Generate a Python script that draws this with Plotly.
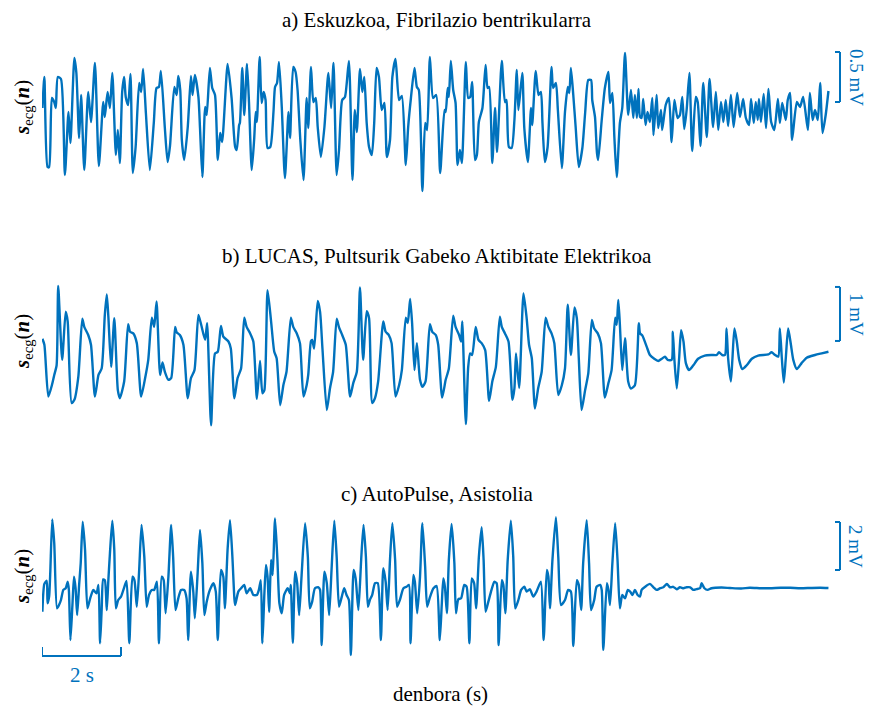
import plotly.graph_objects as go

# ---------------- data (time in s, amplitude in mV) ----------------
t_a = [0.01,0.06,0.14,0.18,0.25,0.31,0.35,0.40,0.48,0.58,
0.67,0.72,0.82,0.87,0.94,0.99,1.07,1.17,1.24,1.34,
1.44,1.55,1.59,1.66,1.72,1.78,1.87,1.92,1.97,2.03,
2.08,2.12,2.18,2.24,2.30,2.37,2.46,2.51,2.56,2.63,
2.73,2.83,2.90,2.96,3.01,3.11,3.18,3.24,3.35,3.41,
3.45,3.50,3.54,3.60,3.69,3.77,3.81,3.87,3.96,4.00,
4.06,4.13,4.17,4.25,4.31,4.38,4.45,4.51,4.56,4.70,
4.80,4.89,4.93,4.99,
5.01,5.07,5.12,5.19,5.24,5.31,5.37,5.41,5.44,5.51,
5.56,5.61,5.66,5.71,5.78,5.86,5.90,5.95,6.00,6.07,
6.15,6.24,6.28,6.36,6.42,6.47,6.54,6.62,6.70,6.74,
6.81,6.87,6.93,6.98,7.06,7.15,7.25,7.32,7.38,7.46,
7.52,7.60,7.67,7.77,7.86,7.92,7.97,8.05,8.11,8.16,
8.22,8.28,8.35,8.41,8.47,8.53,8.60,8.67,8.73,8.81,
8.87,8.95,9.04,9.11,9.21,9.27,9.34,9.43,9.49,9.54,
9.63,9.70,9.75,9.82,9.90,9.98,
10.08,10.19,10.22,10.27,10.30,10.35,10.41,10.47,10.52,10.58,
10.63,10.73,10.79,10.84,10.89,10.96,11.01,11.06,11.15,11.23,
11.28,11.32,11.40,11.47,11.52,11.64,11.72,11.76,11.82,11.89,
11.96,12.02,12.06,12.16,12.21,12.30,12.38,12.41,12.50,12.57,
12.63,12.67,12.73,12.80,12.90,12.94,13.01,13.06,13.16,13.24,
13.31,13.35,13.39,13.45,13.51,13.59,13.68,13.75,13.83,13.90,
13.93,14.00,14.05,14.08,14.17,14.25,14.34,14.38,14.44,14.49,
14.55,14.63,14.69,14.76,14.84,14.91,14.97,15.01,15.06,15.10,
15.14,15.18,15.22,15.28,15.33,15.39,15.45,15.48,15.56,15.60,
15.67,15.70,15.79,15.87,15.94,16.01,16.09,16.15,16.21,16.26,
16.32,16.39,16.46,16.55,16.60,16.67,16.74,16.83,16.90,16.99,
17.06,17.12,17.19,17.25,17.31,17.37,17.44,17.51,17.60,17.67,
17.75,17.82,17.90,17.95,18.02,18.07,18.12,18.15,18.20,18.27,
18.33,18.39,18.46,18.54,18.63,18.68,18.74,18.83,18.88,18.94,
18.99,19.11,19.19,19.27,19.39,19.44,19.51,19.57,19.64,19.70,
19.76,19.84,19.91]

v_a = [0.12,0.43,-0.47,-0.47,0.22,0.18,0.12,0.43,0.41,-0.55,
0.08,-0.23,0.62,0.47,-0.18,0.25,-0.50,0.28,-0.02,0.57,
-0.46,0.18,0.03,0.28,0.12,0.47,-0.35,-0.10,-0.43,0.28,
0.43,0.23,0.15,0.46,-0.53,-0.27,0.37,0.28,0.51,0.07,
-0.50,-0.03,0.32,0.33,0.49,-0.08,-0.42,-0.26,0.33,0.25,
0.44,0.30,-0.20,-0.40,-0.07,0.44,0.25,0.45,0.23,-0.08,
-0.57,0.13,0.05,0.52,0.32,0.25,-0.40,-0.13,-0.22,0.56,
0.22,-0.27,-0.30,-0.05,
-0.03,0.52,0.05,0.56,0.18,-0.50,-0.20,0.08,-0.02,0.63,
0.17,0.28,0.20,-0.28,-0.27,0.08,0.33,0.37,0.58,0.13,
-0.58,0.08,-0.18,0.53,0.48,0.30,-0.20,-0.60,0.22,-0.08,
0.53,0.18,0.22,-0.07,-0.37,-0.07,0.47,0.12,0.57,-0.55,
-0.30,0.20,0.23,0.59,-0.60,0.10,-0.12,0.51,0.28,0.43,
-0.03,-0.27,-0.35,-0.03,0.52,0.43,0.10,0.17,-0.37,-0.20,
0.43,0.61,0.20,0.24,-0.45,-0.07,0.22,0.52,0.33,0.30,
-0.71,-0.03,-0.10,0.63,0.22,0.25,
-0.53,0.10,0.08,0.32,0.23,0.59,0.30,0.17,-0.45,-0.30,
-0.43,0.58,0.22,0.23,0.38,-0.40,-0.35,-0.02,0.12,0.55,
0.32,0.33,-0.43,0.12,-0.32,0.59,0.18,0.20,-0.27,-0.28,
0.00,0.50,0.10,0.47,-0.08,-0.42,0.12,-0.05,0.49,0.25,
0.28,-0.03,-0.42,-0.27,0.53,0.32,0.37,0.10,-0.48,0.08,
0.33,0.27,0.52,0.25,-0.07,-0.47,-0.28,0.07,0.40,0.40,
0.20,0.03,-0.33,-0.40,0.00,0.32,0.48,0.17,0.27,-0.17,
-0.57,-0.03,0.12,0.67,0.05,0.30,0.02,0.25,0.02,0.31,
0.03,0.02,0.21,-0.05,0.08,-0.02,0.22,-0.15,0.25,-0.08,
0.10,-0.10,0.15,0.22,-0.22,0.20,0.02,0.05,0.23,-0.09,
0.10,0.47,-0.31,0.23,0.18,-0.26,0.37,-0.17,0.41,-0.07,
0.28,-0.10,0.18,-0.02,0.20,-0.06,0.25,-0.07,0.27,0.03,
0.21,0.02,-0.05,0.21,-0.03,0.18,0.00,0.21,-0.02,0.26,
-0.08,0.31,-0.02,-0.10,0.21,-0.03,0.17,0.00,0.20,0.27,
-0.20,0.18,0.13,0.23,-0.10,0.27,0.00,0.10,0.00,0.37,
-0.13,0.05,0.29]

t_b = [0.01,0.06,0.16,0.25,0.31,0.37,0.41,0.51,0.60,0.65,
0.75,0.82,0.92,1.02,1.07,1.17,1.24,1.34,1.43,1.51,
1.59,1.64,1.68,1.75,1.83,1.92,1.97,2.08,2.18,2.23,
2.31,2.40,2.51,2.61,2.69,2.78,2.84,2.90,2.99,3.05,
3.11,3.20,3.27,3.37,3.41,3.49,3.58,3.69,3.77,3.86,
3.96,4.03,4.13,4.18,4.28,4.38,4.45,4.53,4.59,4.72,
4.78,4.87,4.95,5.04,5.12,5.18,5.27,5.35,5.44,5.52,
5.58,5.63,5.71,5.80,5.88,5.94,6.03,6.11,6.19,6.30,
6.36,6.45,6.53,6.62,6.70,6.74,6.81,6.84,6.89,6.98,
7.04,7.10,7.21,7.29,7.37,7.46,7.52,7.60,7.69,7.80,
7.88,7.97,8.05,8.13,8.22,8.28,8.36,8.43,8.51,8.64,
8.70,8.78,8.85,8.95,9.04,9.11,9.21,9.26,9.32,9.37,
9.43,9.49,9.57,9.63,9.71,9.82,9.88,9.97,10.03,10.13,
10.22,10.30,10.41,10.47,10.56,10.61,10.64,10.73,10.79,10.84,
10.89,10.98,11.05,11.13,11.22,11.32,11.40,11.49,11.59,11.64,
11.72,11.81,11.91,11.96,12.00,12.08,12.19,12.27,12.33,12.40,
12.48,12.56,12.65,12.75,12.82,12.90,12.97,13.07,13.16,13.24,
13.31,13.39,13.48,13.54,13.59,13.66,13.75,13.83,13.92,13.98,
14.07,14.15,14.25,14.34,14.42,14.51,14.55,14.59,14.63,14.69,
14.76,14.84,14.91,15.01,15.11,15.14,15.20,15.31,15.39,15.50,
15.60,15.69,15.77,15.84,15.94,15.97,16.01,16.07,16.13,16.18,
16.24,16.30,16.38,16.49,16.61,16.78,16.95,17.08,17.14,17.22,
17.29,17.33,17.37,17.44,17.48,17.53,17.59,17.65,17.73,17.84,
17.97,18.13,18.39,18.47,18.56,18.64,18.68,18.73,18.78,18.83,
18.89,18.96,19.02,19.11,19.23,19.36,19.57,19.74,19.91]

v_b = [0.30,0.19,-0.77,-0.56,-0.37,-0.19,1.28,-0.09,0.80,0.62,
-0.89,-0.83,-0.40,0.67,0.52,0.37,0.19,-0.77,-0.37,-0.25,
0.74,1.12,0.71,-0.22,0.68,-0.65,-0.80,-0.49,0.57,0.43,
0.40,0.22,-0.77,-0.43,-0.09,0.69,0.52,0.99,-0.37,-0.14,
-0.31,-0.46,-0.43,0.52,0.42,0.37,0.19,-0.80,-0.43,-0.28,
0.74,0.56,0.28,0.59,-1.30,0.03,0.06,0.54,0.34,0.25,
0.12,-0.80,-0.43,-0.25,0.69,0.52,0.40,0.25,-0.81,-0.11,
-0.71,-0.65,1.20,0.62,0.06,-0.06,-0.93,-0.56,-0.31,0.69,
0.52,0.40,0.22,-0.77,-0.56,-0.37,0.26,0.28,0.12,1.00,
0.80,0.12,-1.02,-0.62,-0.31,0.67,0.51,0.37,0.19,-0.77,
-0.52,-0.31,1.25,-0.09,0.81,0.68,-0.89,-0.80,-0.49,0.62,
0.43,0.37,0.22,-0.77,-0.56,-0.28,0.69,0.59,1.04,0.59,
-0.28,0.22,-0.46,-0.59,-0.49,0.57,0.43,0.37,0.19,-0.79,
-0.46,-0.25,0.73,0.52,0.37,0.25,0.62,-1.28,-0.22,0.03,
0.00,0.52,0.28,0.22,0.09,-0.85,-0.49,-0.22,0.71,0.52,
0.40,0.25,-0.83,-0.62,0.03,-0.61,1.14,0.68,0.19,-0.06,
-0.99,-0.62,-0.31,0.69,0.52,0.40,0.22,-0.74,-0.56,-0.25,
0.93,0.00,0.88,0.68,-0.06,-1.02,-0.65,-0.34,0.65,0.49,
0.40,0.22,-0.79,-0.52,-0.28,0.69,0.56,1.02,0.56,-0.28,
0.31,-0.49,-0.62,-0.56,0.59,0.40,0.36,0.15,0.00,-0.07,
-0.11,-0.07,-0.03,-0.09,-0.09,0.43,-0.09,-0.62,-0.06,0.46,
0.25,-0.15,-0.28,-0.19,-0.07,-0.01,0.00,0.00,0.05,0.00,
0.00,0.49,-0.06,-0.49,-0.06,0.49,0.25,-0.09,-0.26,-0.19,
-0.07,-0.01,0.01,0.05,0.00,-0.03,0.49,-0.06,-0.51,-0.06,
0.49,0.19,-0.09,-0.26,-0.15,-0.05,0.00,0.03,0.06]

t_c = [0.01,0.06,0.12,0.14,0.18,0.21,0.26,0.31,0.38,0.43,
0.48,0.54,0.60,0.65,0.68,0.72,0.77,0.81,0.85,0.89,
0.94,0.98,1.03,1.09,1.15,1.22,1.30,1.38,1.43,1.47,
1.51,1.55,1.59,1.64,1.68,1.72,1.78,1.83,1.87,1.93,
2.00,2.06,2.14,2.21,2.29,2.34,2.40,2.46,2.52,2.59,
2.65,2.71,2.78,2.84,2.91,2.96,3.03,3.08,3.13,3.20,
3.27,3.32,3.38,3.45,3.52,3.60,3.66,3.70,3.77,3.83,
3.87,3.94,4.00,4.06,4.11,4.17,4.25,4.34,4.40,4.45,
4.53,4.59,4.63,4.70,4.76,4.82,4.87,4.89,4.97,5.04,
5.12,5.18,5.27,5.35,5.44,5.49,5.54,5.58,5.63,5.67,
5.71,5.75,5.80,5.84,5.90,5.96,6.01,6.07,6.13,6.22,
6.28,6.30,6.35,6.41,6.46,6.51,6.57,6.66,6.73,6.78,
6.84,6.91,7.00,7.04,7.08,7.15,7.21,7.27,7.33,7.40,
7.46,7.52,7.59,7.65,7.71,7.77,7.82,7.89,7.94,8.01,
8.08,8.14,8.20,8.25,8.30,8.36,8.43,8.50,8.58,8.64,
8.70,8.75,8.81,8.87,8.94,8.99,9.06,9.15,9.23,9.29,
9.33,9.40,9.44,9.50,9.57,9.63,9.70,9.75,9.82,9.91,
9.99,10.07,10.12,10.16,10.20,10.25,10.30,10.37,10.44,10.48,
10.54,10.61,10.69,10.75,10.82,10.88,10.94,10.99,11.06,11.13,
11.18,11.23,11.30,11.38,11.45,11.51,11.56,11.64,11.68,11.73,
11.79,11.87,11.93,11.98,12.06,12.13,12.21,12.27,12.35,12.44,
12.52,12.63,12.70,12.78,12.82,12.86,12.92,13.01,13.07,13.14,
13.24,13.32,13.39,13.45,13.54,13.59,13.65,13.70,13.79,13.85,
13.90,13.98,14.04,14.13,14.17,14.21,14.30,14.34,14.38,14.44,
14.51,14.57,14.63,14.69,14.76,14.83,14.89,14.95,15.01,15.08,
15.14,15.18,15.27,15.39,15.48,15.56,15.65,15.73,15.82,15.90,
15.98,16.07,16.15,16.24,16.32,16.41,16.49,16.57,16.66,16.70,
16.77,16.85,16.95,17.20,17.42,17.70,17.92,18.20,18.43,18.70,
18.94,19.20,19.44,19.70,19.91]

v_c = [-0.99,0.17,0.30,-0.64,-0.36,0.68,2.86,1.86,-0.85,-0.71,
-0.50,-0.08,-0.01,0.26,-0.08,-2.17,-0.71,0.47,-0.01,-1.13,
0.13,1.03,2.76,1.58,-0.85,-0.43,-0.08,-0.22,0.13,-2.30,
-0.92,0.36,0.33,-0.92,0.33,1.45,2.80,1.58,-0.85,-0.50,
-0.36,-0.08,0.29,-2.30,0.47,0.33,-0.78,0.75,2.63,1.30,
-0.78,-0.29,-0.08,-0.08,0.26,-2.30,0.47,0.33,-1.05,0.47,
2.63,1.30,-0.92,-0.43,-0.08,-0.08,-0.43,-2.17,0.68,-0.15,
-1.26,0.61,2.42,1.03,-1.13,-0.57,-0.08,0.20,-0.15,-2.17,
0.75,0.47,-0.85,1.65,2.83,1.30,-0.43,-0.71,-0.15,-0.01,
0.13,-0.22,-0.01,-0.29,-0.29,-0.08,0.33,-2.30,-0.22,0.96,
0.47,-0.99,1.17,0.54,2.90,1.17,-0.64,-1.05,-0.29,-0.01,
-0.22,0.13,-2.28,0.68,0.20,-1.13,0.47,2.70,1.30,-0.85,
-0.57,-0.01,0.03,-0.08,-2.38,0.68,0.20,-1.13,0.75,2.80,
1.30,-0.78,-0.36,-0.01,-0.29,-0.50,-2.79,0.75,0.40,-0.92,
1.17,2.63,1.30,-0.78,-0.50,-0.29,0.20,0.20,-2.17,0.82,
0.26,-0.92,1.17,2.70,1.17,-0.78,-0.50,-0.01,0.05,0.13,
-2.30,0.54,0.26,-1.05,0.47,2.70,0.89,-0.78,-0.39,-0.01,
0.08,-2.17,-0.71,0.40,0.05,-1.05,1.17,2.67,1.03,-1.05,
-0.47,-0.43,0.13,0.05,-2.30,0.40,0.20,-0.85,1.30,2.53,
1.17,-0.99,-0.57,-0.08,0.26,0.20,-2.38,0.33,0.13,-1.05,
1.17,2.80,1.30,-0.85,-0.50,-0.08,0.05,-0.15,-0.05,-0.36,
-0.15,0.26,-2.17,0.75,0.47,-0.85,1.10,2.95,1.30,-0.71,
-0.50,-0.08,-0.15,-2.42,0.33,0.13,-0.92,1.03,2.83,1.03,
-0.92,-0.50,0.05,0.13,-0.08,-2.58,0.20,-0.08,-0.71,1.03,
2.70,1.17,-0.85,-0.29,-0.43,-0.08,-0.15,-0.29,-0.08,-0.29,
-0.36,-0.08,0.05,0.17,0.03,-0.08,-0.01,0.03,0.17,0.03,
0.05,-0.05,0.03,-0.01,0.03,0.03,-0.08,-0.05,-0.01,0.20,
-0.01,-0.08,-0.01,0.02,0.00,-0.02,0.01,-0.01,-0.01,0.01,
0.01,-0.01,0.00,0.01,0.00]

titles = ["a) Eskuzkoa, Fibrilazio bentrikularra",
          "b) LUCAS, Pultsurik Gabeko Aktibitate Elektrikoa",
          "c) AutoPulse, Asistolia"]
scale_mv = [0.5, 1, 2]          # vertical scale bars (mV)
scale_labels = ["0.5 mV", "1 mV", "2 mV"]
time_scale_s = 2                # horizontal scale bar (s)
time_scale_label = "2 s"
x_label = "denbora (s)"
y_label = "<i><b>s</b></i><sub>ecg</sub>(<i><b>n</b></i>)"

assert len(t_a) == len(v_a) and len(t_b) == len(v_b) and len(t_c) == len(v_c)

# ---------------- layout helpers ----------------
W, H = 870, 707
BLUE = "#0072BD"
FONT = "Liberation Serif"

def px_x(p): return p / W
def px_y(p): return 1 - p / H

x_dom = [px_x(42), px_x(832)]
x_rng = [0, 20]
panels = [
    ((40, 200), (-0.80, 0.80)),
    ((275, 435), (-80/54, 80/54)),
    ((505, 665), (-77/24, 83/24)),
]

fig = go.Figure()
series = [(t_a, v_a), (t_b, v_b), (t_c, v_c)]
for i, (t, v) in enumerate(series):
    sfx = "" if i == 0 else str(i + 1)
    fig.add_trace(go.Scatter(x=t, y=v, mode="lines",
                             line=dict(color=BLUE, width=2.4, shape="spline", smoothing=0.6),
                             xaxis="x" + sfx, yaxis="y" + sfx,
                             hoverinfo="skip", showlegend=False))

layout = dict(width=W, height=H, margin=dict(l=0, r=0, t=0, b=0),
              paper_bgcolor="white", plot_bgcolor="white", showlegend=False)
for i, ((top, bot), yr) in enumerate(panels):
    sfx = "" if i == 0 else str(i + 1)
    layout["xaxis" + sfx] = dict(domain=x_dom, range=x_rng, visible=False,
                                 anchor="y" + sfx, fixedrange=True)
    layout["yaxis" + sfx] = dict(domain=[px_y(bot), px_y(top)], range=list(yr),
                                 visible=False, anchor="x" + sfx, fixedrange=True)
fig.update_layout(**layout)

annotations = []
shapes = []
title_y = [20, 256, 494]
ylab_y = [108, 342, 577]
bar_bottom = [0.18, 0.26, 0.75]   # mV position of lower end of bracket
for i in range(3):
    sfx = "" if i == 0 else str(i + 1)
    annotations.append(dict(text=titles[i], x=px_x(437), y=px_y(title_y[i]),
                            xref="paper", yref="paper", showarrow=False,
                            xanchor="center", yanchor="middle",
                            font=dict(family=FONT, size=21, color="black")))
    annotations.append(dict(text=y_label, x=px_x(23), y=px_y(ylab_y[i]),
                            xref="paper", yref="paper", showarrow=False,
                            textangle=-90, xanchor="center", yanchor="middle",
                            font=dict(family=FONT, size=21, color="black")))
    y0 = bar_bottom[i]
    y1 = y0 + scale_mv[i]
    xb, xt = px_x(840), px_x(835)
    ln = dict(color=BLUE, width=2)
    shapes += [
        dict(type="line", xref="paper", yref="y" + sfx, x0=xb, x1=xb, y0=y0, y1=y1, line=ln),
        dict(type="line", xref="paper", yref="y" + sfx, x0=xt, x1=xb, y0=y0, y1=y0, line=ln),
        dict(type="line", xref="paper", yref="y" + sfx, x0=xt, x1=xb, y0=y1, y1=y1, line=ln),
    ]
    annotations.append(dict(text=scale_labels[i], x=px_x(856), y=(y0 + y1) / 2,
                            xref="paper", yref="y" + sfx, showarrow=False,
                            textangle=90, xanchor="center", yanchor="middle",
                            font=dict(family=FONT, size=19, color=BLUE)))

# time scale bar in panel c
yb, ytk = -2.83, -2.46
ln = dict(color=BLUE, width=2)
shapes += [
    dict(type="line", xref="x3", yref="y3", x0=0, x1=time_scale_s, y0=yb, y1=yb, line=ln),
    dict(type="line", xref="x3", yref="y3", x0=0, x1=0, y0=yb, y1=ytk, line=ln),
    dict(type="line", xref="x3", yref="y3", x0=time_scale_s, x1=time_scale_s, y0=yb, y1=ytk, line=ln),
]
annotations.append(dict(text=time_scale_label, x=time_scale_s / 2, y=px_y(675),
                        xref="x3", yref="paper", showarrow=False,
                        xanchor="center", yanchor="middle",
                        font=dict(family=FONT, size=21, color=BLUE)))
annotations.append(dict(text=x_label, x=px_x(440), y=px_y(694),
                        xref="paper", yref="paper", showarrow=False,
                        xanchor="center", yanchor="middle",
                        font=dict(family=FONT, size=21, color="black")))

fig.update_layout(annotations=annotations, shapes=shapes)
fig.write_html("out.html", config={"displayModeBar": False, "staticPlot": True},
               post_script="document.body.style.margin='0px';document.body.style.overflow='hidden';")
